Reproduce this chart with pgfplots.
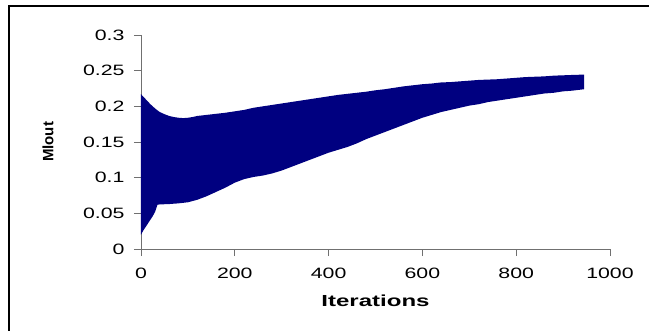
\documentclass[border=0pt]{standalone}
\usepackage{pgfplots}
\pgfplotsset{compat=1.18}
\usepgfplotslibrary{fillbetween}
\usepackage{fontspec}
\setmainfont{Liberation Sans}
\newfontfamily\stretchfont[FakeStretch=1.42]{Liberation Sans}
\newfontfamily\stretchfontb[FakeStretch=1.5]{Liberation Sans}
\definecolor{navyc}{HTML}{000080}
\definecolor{axgray}{HTML}{707070}
\begin{document}
\begin{tikzpicture}
\begin{axis}[
  at={(0pt,0pt)}, anchor=south west,
  scale only axis, width=469pt, height=214pt,
  xmin=0, xmax=1000, ymin=0, ymax=0.3,
  axis lines=left,
  axis line style={-, color=axgray, line width=0.9pt},
  tick style={color=axgray, line width=0.9pt},
  tick align=outside, major tick length=7pt,
  xtick={0,200,400,600,800,1000},
  xticklabels={0,200,400,600,800,1000},
  ytick={0,0.05,0.1,0.15,0.2,0.25,0.3},
  yticklabels={0,0.05,0.1,0.15,0.2,0.25,0.3},
  ticklabel style={font=\stretchfont\fontsize{15}{17}\selectfont, text=black},
  xticklabel style={yshift=-8pt},
  yticklabel style={xshift=-6pt},
  xlabel={Iterations},
  ylabel={Mlout},
  xlabel style={at={(axis description cs:0.5,0)}, anchor=center, yshift=-52pt,
    font=\stretchfontb\bfseries\fontsize{16}{18}\selectfont},
  ylabel style={at={(axis description cs:-0.198,0.5)}, anchor=center,
    font=\bfseries\fontsize{15}{17}\selectfont},
]
\addplot[draw=none, name path=U] table {
x y
0 0.217
10 0.210
20 0.203
30 0.197
40 0.192
50 0.189
60 0.1865
70 0.185
80 0.184
90 0.1835
100 0.184
110 0.185
120 0.1865
140 0.188
160 0.1895
180 0.191
200 0.193
220 0.195
240 0.198
260 0.200
280 0.202
300 0.204
320 0.206
340 0.208
360 0.210
380 0.212
400 0.214
420 0.216
440 0.2175
460 0.219
480 0.2205
500 0.2225
520 0.224
540 0.226
560 0.228
580 0.2295
600 0.231
620 0.232
640 0.2335
660 0.234
680 0.235
700 0.236
720 0.237
740 0.2375
760 0.238
780 0.239
800 0.240
820 0.241
840 0.2415
860 0.242
880 0.243
900 0.2435
920 0.244
945 0.2445
};
\addplot[draw=none, name path=L] table {
x y
0 0.020
5 0.026
10 0.031
15 0.036
20 0.041
25 0.046
30 0.052
35 0.062
40 0.0625
60 0.063
80 0.064
100 0.0655
120 0.069
140 0.074
160 0.080
180 0.086
200 0.093
220 0.098
240 0.101
260 0.103
280 0.106
300 0.110
320 0.115
340 0.120
360 0.125
380 0.130
400 0.135
420 0.139
440 0.143
460 0.148
480 0.154
500 0.159
520 0.164
540 0.169
560 0.174
580 0.179
600 0.184
620 0.188
640 0.192
660 0.195
680 0.198
700 0.201
720 0.203
740 0.206
760 0.208
780 0.210
800 0.212
820 0.214
840 0.216
860 0.218
880 0.219
900 0.221
920 0.222
945 0.224
};
\addplot[navyc] fill between[of=U and L];
\end{axis}
\useasboundingbox (-141pt,-81pt) rectangle (508pt,249pt);
\draw[line width=2pt, black] (-132pt,-82pt) -- (-132pt,243pt) -- (509pt,243pt);
\end{tikzpicture}
\end{document}
